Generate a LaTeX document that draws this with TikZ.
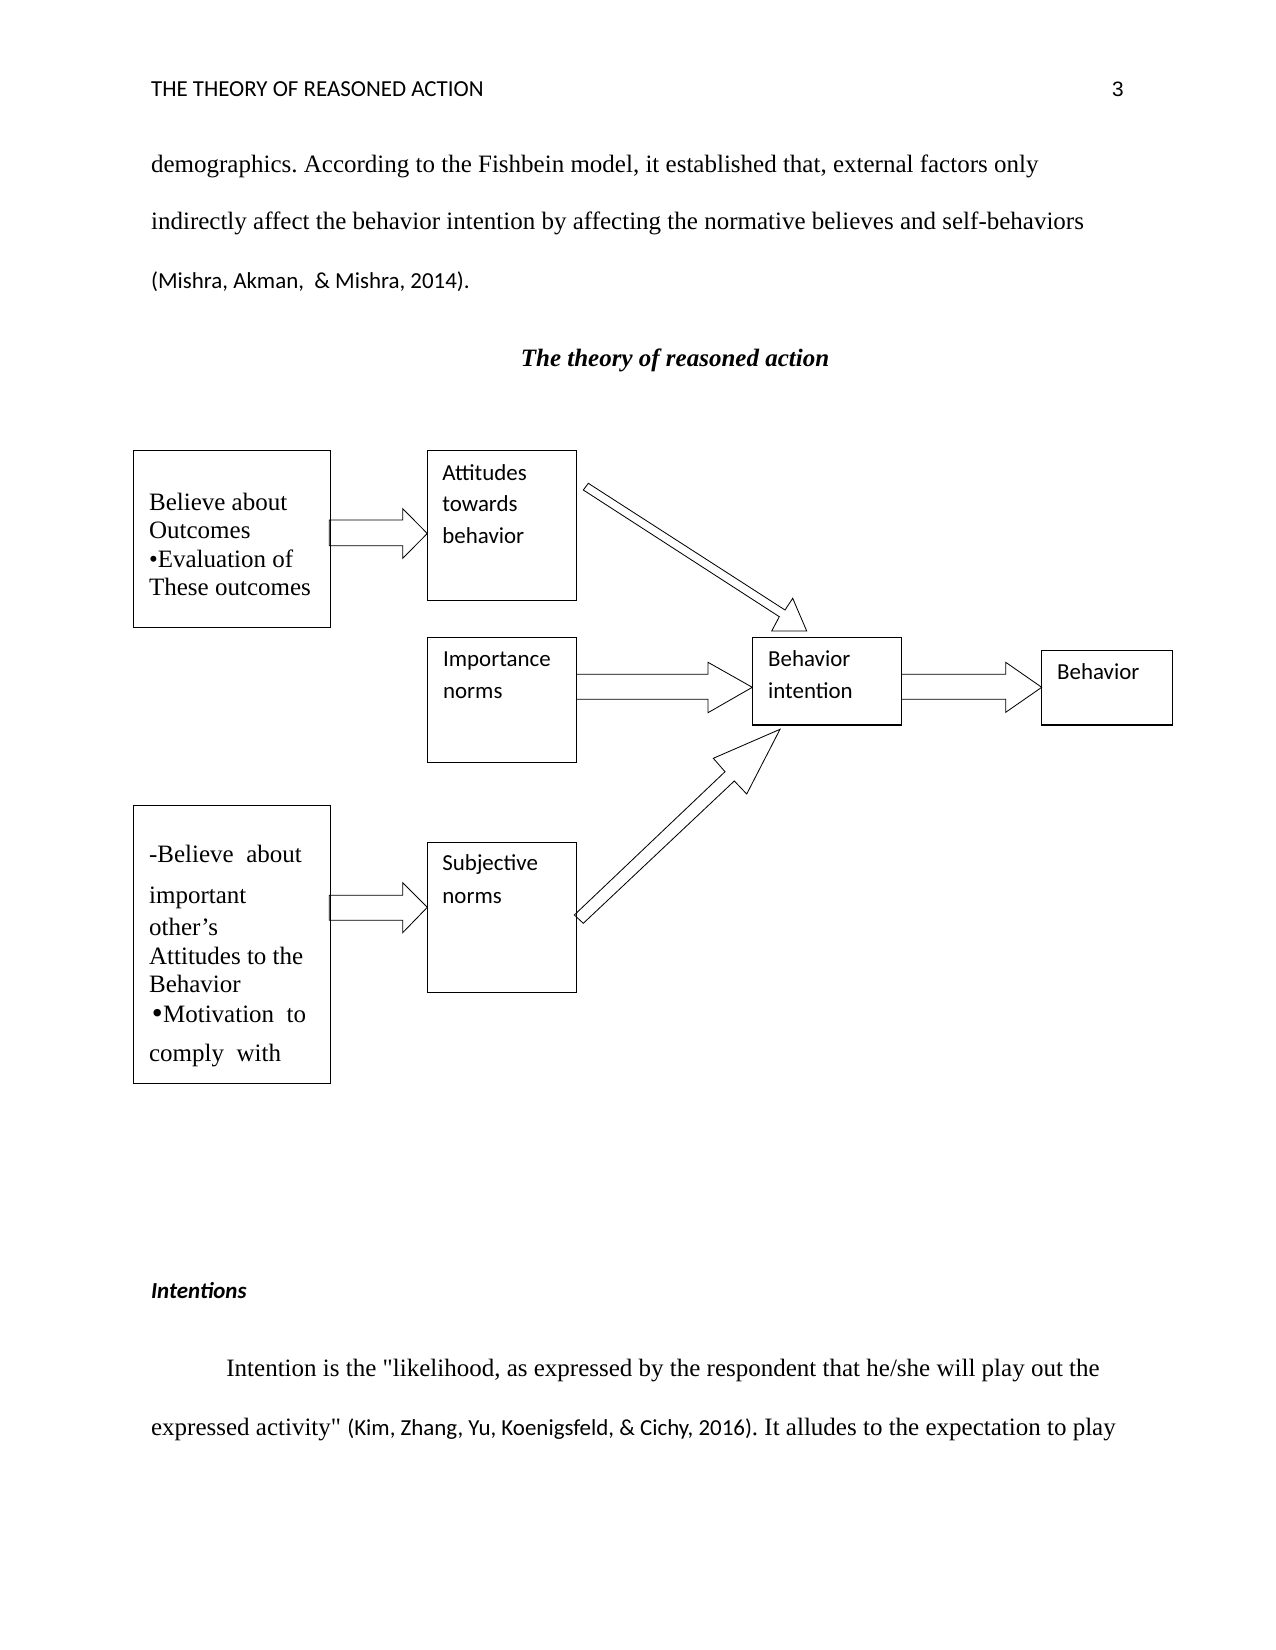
\documentclass[tikz,border=0pt]{standalone}
\usepackage{fontspec}
\setmainfont{Liberation Serif}
\newfontfamily\plainser{Liberation Serif}[Ligatures=Common]
\newfontfamily\calfont{Carlito}
\newfontfamily\arialfont{Liberation Sans}
\usetikzlibrary{fit}
\tikzset{
  box/.style={draw=black, line width=0.5pt, inner sep=0pt},
  blockarrow/.style={draw=black, line width=0.4pt, line join=miter},
  sertxt/.style={anchor=base west, inner sep=0pt, font=\fontsize{12}{14}\selectfont},
  caltxt/.style={anchor=base west, inner sep=0pt, font=\calfont\fontsize{11}{13}\selectfont},
  bodycal/.style={anchor=base west, inner sep=0pt, font=\calfont\fontsize{11}{13}\selectfont},
}
\begin{document}
\frenchspacing
\begin{tikzpicture}[x=0.48pt, y=-0.48pt]
\useasboundingbox (0,0) rectangle (1275,1650);
\fill[white] (0,0) rectangle (1275,1650);

% header
\node[bodycal] (hdr) at (150.7,96.7) {THE THEORY OF REASONED ACTION};
\node[anchor=base east, inner sep=0pt, font=\arialfont\fontsize{10}{12}\selectfont] (pg) at (1124,96.7) {3};

% paragraph
\node[sertxt] (p1) at (150.7,172.7) {demographics. According to the Fishbein model, it established that, external factors only};
\node[sertxt] (p2) at (150.7,230) {indirectly affect the behavior intention by affecting the normative believes and self-behaviors};
\node[bodycal] (p3) at (150.7,288.3) {(Mishra, Akman,~~\& Mishra, 2014).};

% title
\node[anchor=base, inner sep=0pt, font=\bfseries\itshape\fontsize{12}{14}\selectfont] (ttl) at (675,367) {The theory of reasoned action};

% boxes
\node[box, fit={(133.3,450.7) (330.7,627.3)}] (bo) {};
\node[box, fit={(427.3,450.7) (576.7,600.7)}] (att) {};
\node[box, fit={(427.3,637.3) (576.7,762.3)}] (imp) {};
\node[box, fit={(752.3,637.3) (901.7,725)}] (bi) {};
\node[box, fit={(1041.7,650.7) (1172.7,725)}] (beh) {};
\node[box, fit={(133.3,805.3) (330.7,1083.3)}] (nb) {};
\node[box, fit={(427.3,842.3) (576.7,992.3)}] (sn) {};

% box texts
\node[sertxt] (bo1) at (148.7,510) {Believe about};
\node[sertxt] (bo2) at (148.7,538.3) {Outcomes};
\node[sertxt] (bo3) at (148.7,567.3) {•Evaluation of};
\node[sertxt] (bo4) at (148.7,595.7) {These outcomes};

\node[caltxt] (att1) at (442,480) {Attitudes};
\node[caltxt] (att2) at (442,511.7) {towards};
\node[caltxt] (att3) at (442,543.3) {behavior};

\node[caltxt] (imp1) at (442.7,666.7) {Importance};
\node[caltxt] (imp2) at (442.7,698.3) {norms};

\node[caltxt] (bi1) at (767.7,666.7) {Behavior};
\node[caltxt] (bi2) at (767.7,698.3) {intention};

\node[caltxt] (beh1) at (1056.7,679.3) {Behavior};

\node[sertxt] (nb1) at (148.7,862.7) {-Believe~~about};
\node[sertxt] (nb2) at (148.7,903.3) {important};
\node[sertxt] (nb3) at (148.7,935.7) {other’s};
\node[sertxt] (nb4) at (148.7,964) {Attitudes to the};
\node[sertxt] (nb5) at (148.7,992.7) {Behavior};
\node[anchor=base west, inner sep=0pt, font=\fontsize{15}{17}\selectfont] (nb6b) at (151.5,1023.5) {•};
\node[sertxt] (nb6) at (162.7,1022.3) {Motivation~~to};
\node[sertxt] (nb7) at (148.7,1061.7) {comply~~with};

\node[caltxt] (sn1) at (442,870) {Subjective};
\node[caltxt] (sn2) at (442,903.3) {norms};

% block arrows
\draw[blockarrow] (329.3,520) -- (402.7,520) -- (402.7,508.7) -- (427.3,533.5) -- (402.7,558.3) -- (402.7,545.7) -- (329.3,545.7) -- cycle;
\draw[blockarrow] (329.3,895.3) -- (402.7,895.3) -- (402.7,882.7) -- (427.3,907.3) -- (402.7,932.7) -- (402.7,920.3) -- (329.3,920.3) -- cycle;
\draw[blockarrow] (576.7,674.3) -- (708,674.3) -- (708,662.3) -- (752.3,687.3) -- (708,712.7) -- (708,699.3) -- (576.7,699.3);
\draw[blockarrow] (901.7,674.3) -- (1005.7,674.3) -- (1005.7,662.3) -- (1041.7,687.3) -- (1005.7,712.3) -- (1005.7,699.3) -- (901.7,699.3);
\draw[blockarrow] (588.3,483.3) -- (785,610) -- (792.7,598.3) -- (806.7,631) -- (771.7,631) -- (779.3,616.7) -- (583.3,490) -- cycle;
\draw[blockarrow] (574.3,915) -- (725,771.7) -- (713.3,758.3) -- (780,729.3) -- (746.7,794) -- (734.3,781) -- (583.3,923.3) -- cycle;

% lower text
\node[anchor=base west, inner sep=0pt, font=\calfont\bfseries\itshape\fontsize{11}{13}\selectfont] (ints) at (150.7,1298.3) {Intentions};
\node[anchor=base west, inner sep=0pt, font=\plainser\fontsize{12}{14}\selectfont] (q1) at (226,1376.7) {Intention is the "likelihood, as expressed by the respondent that he/she will play out the};
\node[anchor=base west, inner sep=0pt, font=\plainser\fontsize{12}{14}\selectfont] (q2) at (150.7,1435) {expressed activity" {\calfont\fontsize{11}{13}\selectfont(Kim, Zhang, Yu, Koenigsfeld, \& Cichy, 2016)}. It alludes to the expectation to play};
\end{tikzpicture}
\end{document}
